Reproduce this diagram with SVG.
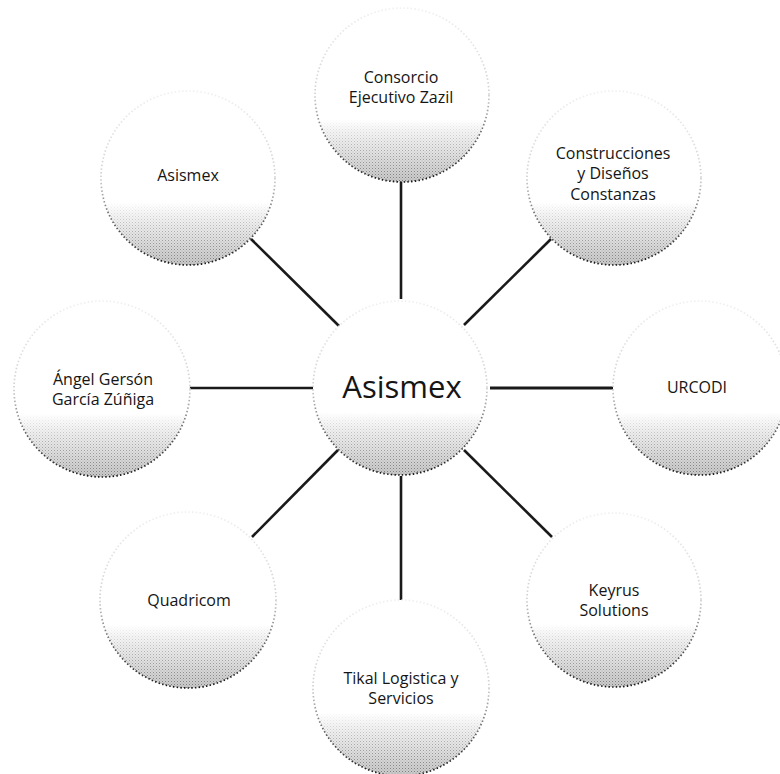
<svg xmlns="http://www.w3.org/2000/svg" width="780" height="774" viewBox="0 0 780 774">
  <defs>
    <linearGradient id="fillGrad" x1="0" y1="0" x2="0" y2="1">
      <stop offset="0" stop-color="#ffffff"/>
      <stop offset="0.64" stop-color="#ffffff"/>
      <stop offset="0.8" stop-color="#e8e8e8"/>
      <stop offset="1" stop-color="#c8c8c8"/>
    </linearGradient>
    <linearGradient id="rimGrad" x1="0" y1="0" x2="0" y2="1">
      <stop offset="0" stop-color="#f0f0f0"/>
      <stop offset="0.5" stop-color="#d0d0d0"/>
      <stop offset="0.72" stop-color="#6a6a6a"/>
      <stop offset="1" stop-color="#151515"/>
    </linearGradient>
    <linearGradient id="fadeGrad" x1="0" y1="0" x2="0" y2="1">
      <stop offset="0" stop-color="#000"/>
      <stop offset="0.64" stop-color="#000"/>
      <stop offset="0.78" stop-color="#777"/>
      <stop offset="1" stop-color="#fff"/>
    </linearGradient>
    <mask id="fadeMask" maskContentUnits="objectBoundingBox">
      <rect x="0" y="0" width="1" height="1" fill="url(#fadeGrad)"/>
    </mask>
    <pattern id="stipple" width="3" height="3" patternUnits="userSpaceOnUse">
      <rect x="0" y="0" width="1" height="1" fill="#7a7a7a"/>
      <rect x="1.5" y="1.5" width="1" height="1" fill="#a0a0a0"/>
    </pattern>
  </defs>
  <style>
    .bg { fill: url(#fillGrad); }
    .dots { fill: url(#stipple); }
    .rim { fill: none; stroke: url(#rimGrad); stroke-width: 1.7; stroke-dasharray: 1.5 2.2; }
    .lbl { font-family: "Open Sans", "Liberation Sans", sans-serif; font-size: 16px; fill: #151515; text-anchor: middle; }
    .main { font-size: 31px; }
    .conn line { stroke: #1a1a1a; stroke-width: 2.6; stroke-linecap: butt; }
  </style>
  <rect width="780" height="774" fill="#ffffff"/>

  <g id="connectors" class="conn">
    <line x1="401" y1="182" x2="401" y2="299"/>
    <line x1="251" y1="239" x2="339" y2="326"/>
    <line x1="551" y1="239" x2="464" y2="325"/>
    <line x1="189" y1="388" x2="313" y2="388"/>
    <line x1="490" y1="388" x2="613" y2="388" style="stroke-width:3.2"/>
    <line x1="338" y1="450" x2="252" y2="537"/>
    <line x1="401" y1="476" x2="401" y2="600"/>
    <line x1="464" y1="450" x2="552" y2="537"/>
  </g>

  <g id="node-center">
    <circle class="bg" cx="400" cy="388" r="87"/>
    <circle class="dots" cx="400" cy="388" r="87" mask="url(#fadeMask)"/>
    <circle class="rim" cx="400" cy="388" r="87"/>
    <text class="lbl main" x="402" y="398">Asismex</text>
  </g>

  <g id="node-consorcio">
    <circle class="bg" cx="402" cy="95" r="87"/>
    <circle class="dots" cx="402" cy="95" r="87" mask="url(#fadeMask)"/>
    <circle class="rim" cx="402" cy="95" r="87"/>
    <text class="lbl" x="401" y="83">Consorcio</text>
    <text class="lbl" x="401" y="103">Ejecutivo Zazil</text>
  </g>

  <g id="node-asismex">
    <circle class="bg" cx="188" cy="178" r="87"/>
    <circle class="dots" cx="188" cy="178" r="87" mask="url(#fadeMask)"/>
    <circle class="rim" cx="188" cy="178" r="87"/>
    <text class="lbl" x="188" y="181">Asismex</text>
  </g>

  <g id="node-construcciones">
    <circle class="bg" cx="614" cy="178" r="87"/>
    <circle class="dots" cx="614" cy="178" r="87" mask="url(#fadeMask)"/>
    <circle class="rim" cx="614" cy="178" r="87"/>
    <text class="lbl" x="613" y="159">Construcciones</text>
    <text class="lbl" x="613" y="179">y Diseños</text>
    <text class="lbl" x="613" y="200">Constanzas</text>
  </g>

  <g id="node-angel">
    <circle class="bg" cx="102" cy="389" r="88"/>
    <circle class="dots" cx="102" cy="389" r="88" mask="url(#fadeMask)"/>
    <circle class="rim" cx="102" cy="389" r="88"/>
    <text class="lbl" x="103" y="385">Ángel Gersón</text>
    <text class="lbl" x="103" y="405">García Zúñiga</text>
  </g>

  <g id="node-urcodi">
    <circle class="bg" cx="700" cy="388" r="87"/>
    <circle class="dots" cx="700" cy="388" r="87" mask="url(#fadeMask)"/>
    <circle class="rim" cx="700" cy="388" r="87"/>
    <text class="lbl" x="697" y="393">URCODI</text>
  </g>

  <g id="node-quadricom">
    <circle class="bg" cx="188" cy="600" r="88"/>
    <circle class="dots" cx="188" cy="600" r="88" mask="url(#fadeMask)"/>
    <circle class="rim" cx="188" cy="600" r="88"/>
    <text class="lbl" x="189" y="606">Quadricom</text>
  </g>

  <g id="node-tikal">
    <circle class="bg" cx="401" cy="688" r="88"/>
    <circle class="dots" cx="401" cy="688" r="88" mask="url(#fadeMask)"/>
    <circle class="rim" cx="401" cy="688" r="88"/>
    <text class="lbl" x="401" y="684">Tikal Logistica y</text>
    <text class="lbl" x="401" y="704">Servicios</text>
  </g>

  <g id="node-keyrus">
    <circle class="bg" cx="614" cy="600" r="87"/>
    <circle class="dots" cx="614" cy="600" r="87" mask="url(#fadeMask)"/>
    <circle class="rim" cx="614" cy="600" r="87"/>
    <text class="lbl" x="614" y="596">Keyrus</text>
    <text class="lbl" x="614" y="616">Solutions</text>
  </g>
</svg>
